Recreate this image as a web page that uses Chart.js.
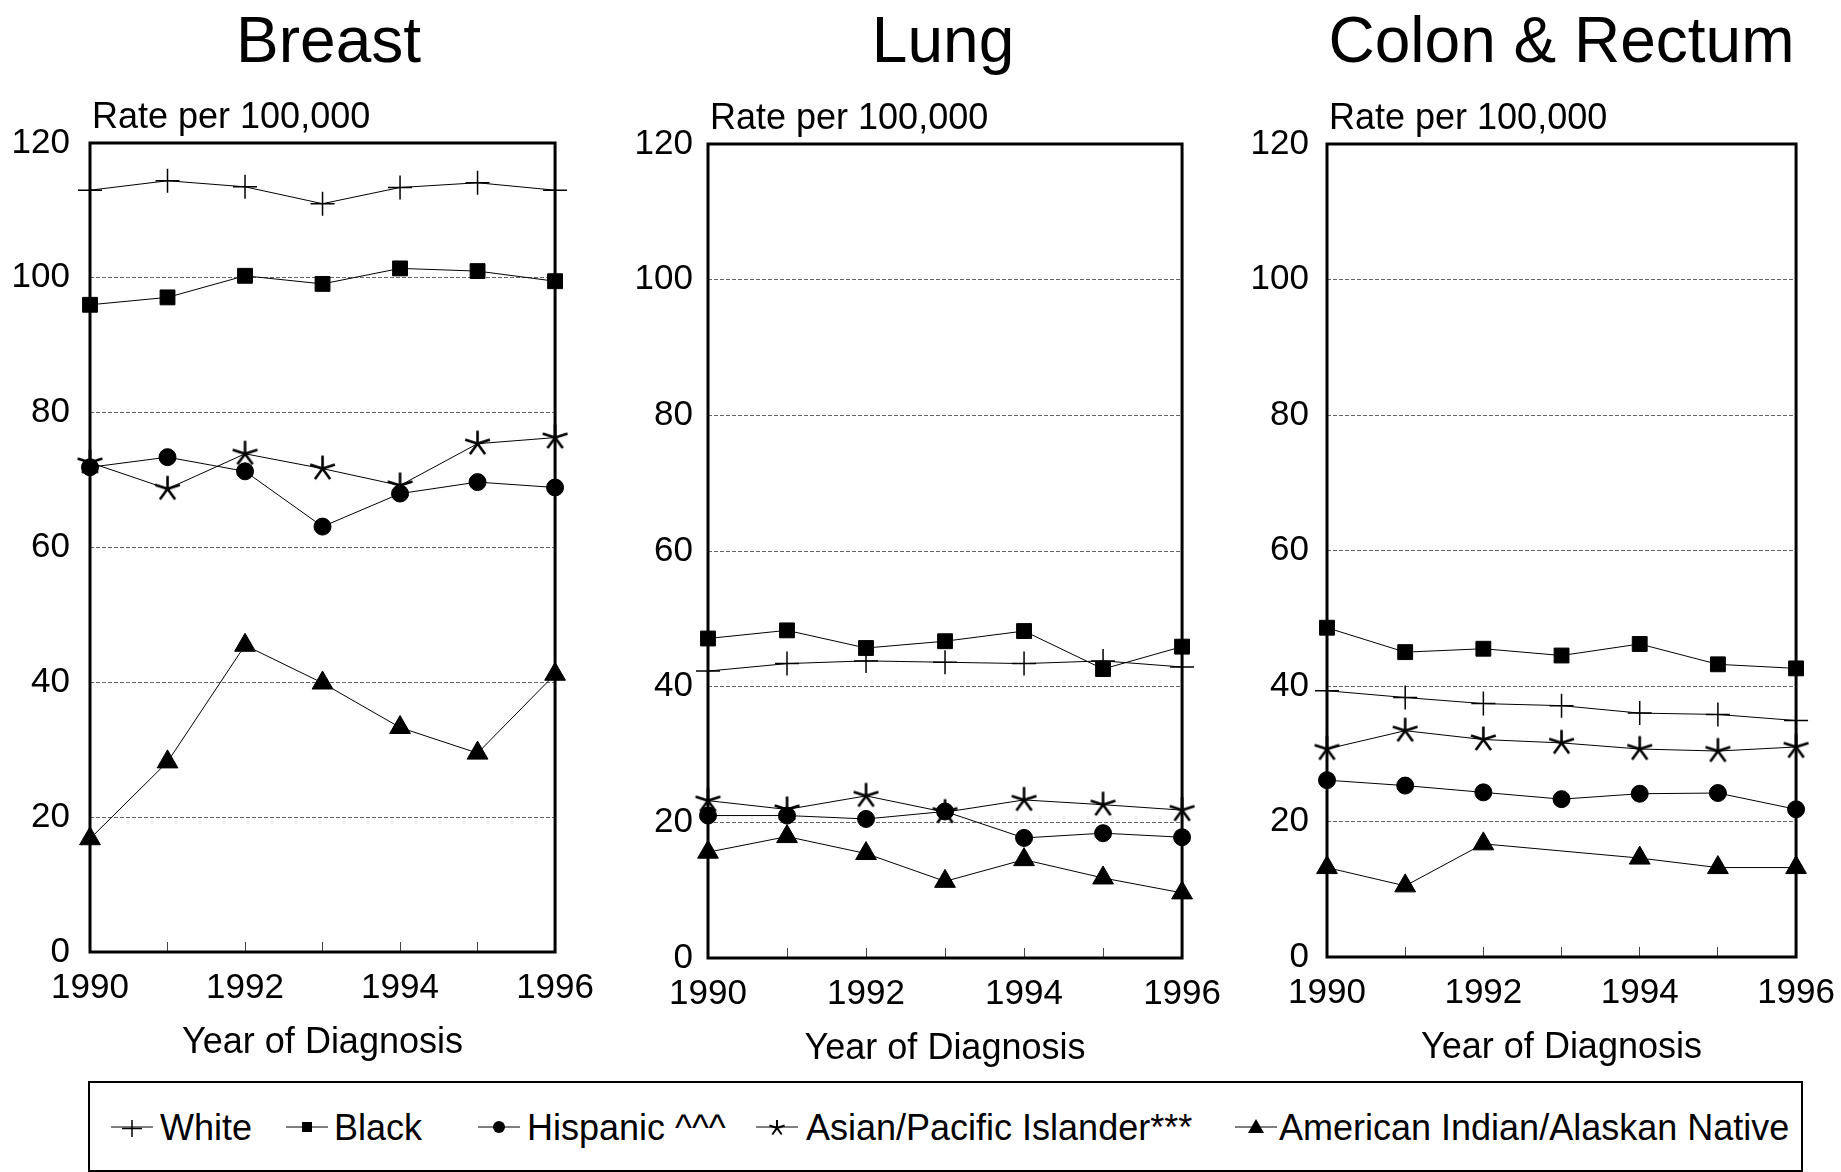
<!doctype html>
<html lang="en">
<head>
<meta charset="utf-8">
<title>Cancer incidence by race/ethnicity, 1990-1996</title>
<script src="https://cdn.jsdelivr.net/npm/chart.js"></script>
<style>
  html, body { overflow: hidden; }
  body { margin: 0; background: #fff; font-family: "Liberation Sans", Arial, sans-serif; }
  .panel { position: absolute; top: 0; }
  #legend { position: absolute; left: 88px; top: 1081px; width: 1715px; height: 91px;
            border: 2px solid #000; box-sizing: border-box; }
  .lg-mark { position: absolute; }
  .lg-text { position: absolute; font-size: 36px; line-height: 36px; white-space: nowrap; color: #000; }
</style>
</head>
<body>
<!-- canvases overlap a little: the x tick padding reserves room right of each plot -->
<canvas id="breast" class="panel" width="619" height="1075" style="left:0px"></canvas>
<canvas id="lung" class="panel" width="646" height="1075" style="left:600px"></canvas>
<canvas id="colon" class="panel" width="630" height="1075" style="left:1230px"></canvas>
<div id="legend"></div>

<script>
// ---- data ----
const years = ['1990', '1991', '1992', '1993', '1994', '1995', '1996'];
const races = ['White', 'Black', 'Hispanic ^^^', 'Asian/Pacific Islander***', 'American Indian/Alaskan Native'];
const yMin = 0, yMax = 120, yStep = 20;

const breastWhite    = [113.0, 114.4, 113.5, 111.0, 113.4, 114.1, 113.0];
const breastBlack    = [96.0, 97.1, 100.3, 99.1, 101.4, 101.0, 99.5];
const breastHispanic = [71.9, 73.4, 71.3, 63.1, 68.0, 69.7, 68.9];
const breastAsian    = [72.6, 68.7, 73.9, 71.7, 69.2, 75.4, 76.3];
const breastAmInd    = [16.8, 28.2, 45.5, 39.9, 33.3, 29.5, 41.2];

const lungWhite    = [42.3, 43.4, 43.8, 43.6, 43.4, 43.8, 42.9];
const lungBlack    = [47.1, 48.3, 45.7, 46.7, 48.2, 42.6, 45.9];
const lungHispanic = [21.0, 21.0, 20.5, 21.6, 17.7, 18.4, 17.8];
const lungAsian    = [23.2, 21.9, 23.9, 21.5, 23.3, 22.6, 21.8];
const lungAmInd    = [15.6, 17.9, 15.4, 11.3, 14.5, 11.8, 9.6];

const colonWhite    = [39.3, 38.3, 37.4, 37.1, 36.0, 35.8, 34.9];
const colonBlack    = [48.6, 45.0, 45.5, 44.5, 46.2, 43.2, 42.6];
const colonHispanic = [26.1, 25.3, 24.3, 23.3, 24.1, 24.2, 21.8];
const colonAsian    = [30.7, 33.4, 32.1, 31.6, 30.7, 30.4, 31.0];
const colonAmInd    = [13.2, 10.5, 16.7, null, 14.6, 13.2, 13.2];

const FONT = '"Liberation Sans", Arial, sans-serif';

// 5-armed asterisk marker (Chart.js only has an 8-armed star)
function asteriskImage(r, lw) {
  const c = document.createElement('canvas');
  const s = Math.ceil(2 * r + lw + 2);
  c.width = s; c.height = s;
  const g = c.getContext('2d');
  g.strokeStyle = '#000';
  g.lineWidth = lw;
  g.beginPath();
  for (let k = 0; k < 5; k++) {
    const a = k * 2 * Math.PI / 5;
    g.moveTo(s / 2, s / 2);
    g.lineTo(s / 2 + r * Math.sin(a), s / 2 - r * Math.cos(a));
  }
  g.stroke();
  return c;
}

const seriesStyle = [
  { pointStyle: 'cross', pointRadius: 12, pointBorderWidth: 1.5 },
  { pointStyle: 'rect', pointRadius: 10.5 },
  { pointStyle: 'circle', pointRadius: 8.5 },
  { pointStyle: asteriskImage(13, 2.6) },
  { pointStyle: 'triangle', pointRadius: 12 }
];

// black frame around the plot area
const framePlugin = {
  id: 'frame',
  beforeDatasetsDraw(chart) {
    const { ctx, chartArea: a } = chart;
    ctx.save();
    ctx.strokeStyle = '#000';
    ctx.lineWidth = 3;
    ctx.strokeRect(a.left, a.top, a.right - a.left, a.bottom - a.top);
    ctx.restore();
  }
};

// panel title, unit label and x axis title
const panelText = {
  id: 'panelText',
  afterDraw(chart, args, opts) {
    const { ctx, chartArea: a } = chart;
    const mid = (a.left + a.right) / 2;
    ctx.save();
    ctx.fillStyle = '#000';
    ctx.textBaseline = 'alphabetic';
    ctx.textAlign = 'center';
    ctx.font = '64px ' + FONT;
    ctx.fillText(opts.title, mid + (opts.dx || 0), 62);
    ctx.font = '36px ' + FONT;
    ctx.fillText('Year of Diagnosis', mid, a.bottom + 101);
    ctx.textAlign = 'left';
    ctx.fillText('Rate per 100,000', a.left + 2, a.top - 15);
    ctx.restore();
  }
};

function makePanel(id, title, series, geo) {
  const datasets = series.map((vals, i) => Object.assign({
    label: races[i],
    data: vals,
    borderColor: '#000',
    borderWidth: 1,
    backgroundColor: '#000',
    pointBorderColor: '#000',
    pointBackgroundColor: '#000',
    pointBorderWidth: 1,
    tension: 0,
    spanGaps: true,
    clip: false
  }, seriesStyle[i]));

  new Chart(document.getElementById(id), {
    type: 'line',
    data: { labels: years, datasets: datasets },
    options: {
      responsive: false,
      animation: false,
      events: [],
      layout: { padding: { top: geo.top, right: 0, left: 0, bottom: 0 } },
      plugins: {
        legend: { display: false },
        tooltip: { enabled: false },
        panelText: { title: title, dx: geo.titleDx }
      },
      scales: {
        x: {
          type: 'category',
          offset: false,
          border: { display: false },
          grid: { display: true, drawOnChartArea: false, drawTicks: true, tickLength: -10, color: '#444', lineWidth: 1 },
          ticks: {
            autoSkip: false, maxRotation: 0, minRotation: 0, padding: 25,
            color: '#000', font: { family: FONT, size: 35 },
            callback: function (v, i) { return i % 2 === 0 ? this.getLabelForValue(v) : ''; }
          },
          afterFit(s) { s.height = geo.xh; }
        },
        y: {
          min: yMin, max: yMax,
          border: { display: false, dash: [4, 2] },
          grid: { color: '#666', lineWidth: 1, drawTicks: false },
          ticks: { stepSize: yStep, padding: geo.yPad, color: '#000', font: { family: FONT, size: 35 } },
          afterFit(s) { s.width = geo.yw; }
        }
      }
    },
    plugins: [framePlugin, panelText]
  });
}

makePanel('breast', 'Breast',
  [breastWhite, breastBlack, breastHispanic, breastAsian, breastAmInd],
  { top: 143, yw: 90, xh: 123, yPad: 20, titleDx: 6 });
makePanel('lung', 'Lung',
  [lungWhite, lungBlack, lungHispanic, lungAsian, lungAmInd],
  { top: 144, yw: 108, xh: 117, yPad: 15, titleDx: -2 });
makePanel('colon', 'Colon & Rectum',
  [colonWhite, colonBlack, colonHispanic, colonAsian, colonAmInd],
  { top: 144, yw: 97, xh: 118, yPad: 18, titleDx: 0 });

// ---- legend (HTML text + small drawn markers) ----
const legendMarkX = [21, 196, 388, 666, 1145];   // relative to legend box
const legendTextX = [70, 244, 437, 716, 1189];
const legendBox = document.getElementById('legend');

function drawLegendMarker(cv, k) {
  const g = cv.getContext('2d');
  const w = cv.width, h = cv.height, cx = w / 2, cy = h / 2;
  g.strokeStyle = '#000';
  g.fillStyle = '#000';
  g.lineWidth = 1.2;
  g.beginPath(); g.moveTo(0, cy); g.lineTo(w, cy); g.stroke();
  if (k === 0) {
    g.lineWidth = 1.5;
    g.beginPath();
    g.moveTo(cx - 10, cy + 1.5); g.lineTo(cx + 10, cy + 1.5);
    g.moveTo(cx, cy - 7); g.lineTo(cx, cy + 10);
    g.stroke();
  } else if (k === 1) {
    g.fillRect(cx - 5, cy - 5, 10, 10);
  } else if (k === 2) {
    g.beginPath(); g.arc(cx, cy, 6, 0, 2 * Math.PI); g.fill();
  } else if (k === 3) {
    const img = asteriskImage(8, 2);
    g.drawImage(img, cx - img.width / 2, cy - img.height / 2 + 1);
  } else {
    g.beginPath();
    g.moveTo(cx, cy - 8); g.lineTo(cx + 8, cy + 6); g.lineTo(cx - 8, cy + 6);
    g.closePath(); g.fill();
  }
}

races.forEach((name, k) => {
  const cv = document.createElement('canvas');
  cv.className = 'lg-mark';
  cv.width = 42; cv.height = 30;
  cv.style.left = legendMarkX[k] + 'px';
  cv.style.top = '29px';
  legendBox.appendChild(cv);
  drawLegendMarker(cv, k);
  const t = document.createElement('span');
  t.className = 'lg-text';
  t.textContent = name;
  t.style.left = legendTextX[k] + 'px';
  t.style.top = '27px';
  legendBox.appendChild(t);
});
</script>
</body>
</html>
